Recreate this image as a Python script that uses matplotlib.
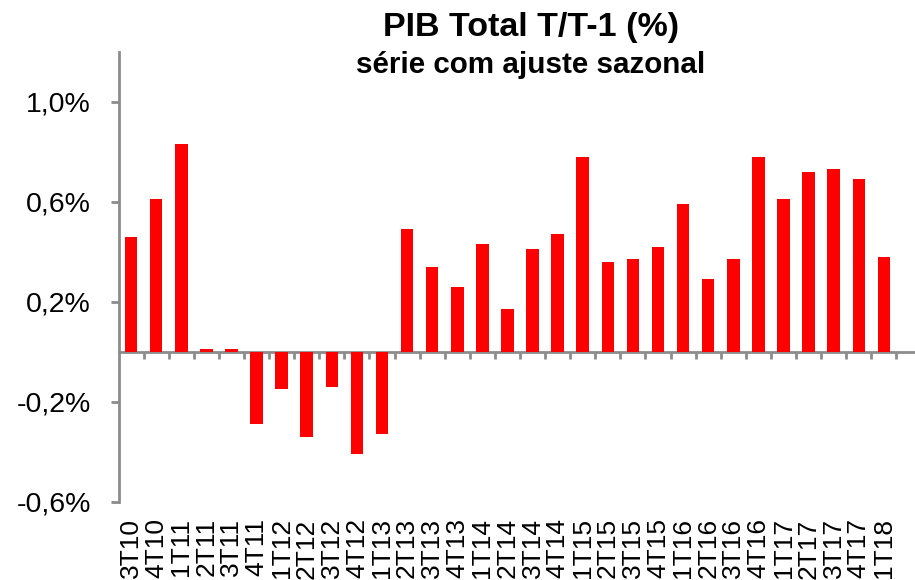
import matplotlib
matplotlib.use("Agg")
import matplotlib.pyplot as plt
import numpy as np

quarters = ["3T10", "4T10", "1T11", "2T11", "3T11", "4T11", "1T12", "2T12", "3T12", "4T12",
            "1T13", "2T13", "3T13", "4T13", "1T14", "2T14", "3T14", "4T14", "1T15", "2T15",
            "3T15", "4T15", "1T16", "2T16", "3T16", "4T16", "1T17", "2T17", "3T17", "4T17", "1T18"]
values = [0.46, 0.61, 0.83, 0.01, 0.01, -0.29, -0.15, -0.34, -0.14, -0.41,
          -0.33, 0.49, 0.34, 0.26, 0.43, 0.17, 0.41, 0.47, 0.78, 0.36,
          0.37, 0.42, 0.59, 0.29, 0.37, 0.78, 0.61, 0.72, 0.73, 0.69, 0.38]
y_ticks = [-0.6, -0.2, 0.2, 0.6, 1.0]
y_tick_labels = ["-0,6%", "-0,2%", "0,2%", "0,6%", "1,0%"]
title = "PIB Total T/T-1 (%)"
subtitle = "série com ajuste sazonal"

plt.rcParams['font.family'] = ['Liberation Sans', 'DejaVu Sans']

W, H = 915, 580
fig = plt.figure(figsize=(W / 100, H / 100), dpi=100)
ax = fig.add_axes([118.5 / W, 1 - 501.7 / H, (915 - 118.5) / W, (501.7 - 51.7) / H])

x = np.arange(len(quarters))
ax.bar(x, values, width=0.5, color="#FF0000", zorder=3)

gray = "#8C8C8C"
ax.set_xlim(-0.5, 31.24)
ax.set_ylim(-0.6, 1.2)

for s in ["top", "right"]:
    ax.spines[s].set_visible(False)
ax.spines["left"].set_color(gray)
ax.spines["left"].set_linewidth(2)
ax.spines["bottom"].set_position(("data", 0))
ax.spines["bottom"].set_color(gray)
ax.spines["bottom"].set_linewidth(2)

ax.set_yticks(y_ticks)
ax.set_yticklabels(y_tick_labels, fontsize=20.5)
ax.tick_params(axis="y", direction="out", length=6, width=2, color=gray, pad=14)

# boundary ticks on the zero line
ax.set_xticks(np.arange(len(quarters)) + 0.5)
ax.set_xticklabels([])
ax.tick_params(axis="x", direction="out", length=5, width=2, color=gray)

# category labels at the bottom of the plot
sec = ax.secondary_xaxis(0.0)
sec.set_xticks(x)
sec.set_xticklabels(quarters, rotation=90, fontsize=19)
sec.tick_params(length=0, pad=12)
sec.spines["bottom"].set_visible(False)

fig.text(531 / W, 1 - 36 / H, title, ha="center", va="baseline", fontsize=24.5, fontweight="bold")
fig.text(531 / W, 1 - 73 / H, subtitle, ha="center", va="baseline", fontsize=21.3, fontweight="bold")

fig.savefig("out.png", dpi=100)
